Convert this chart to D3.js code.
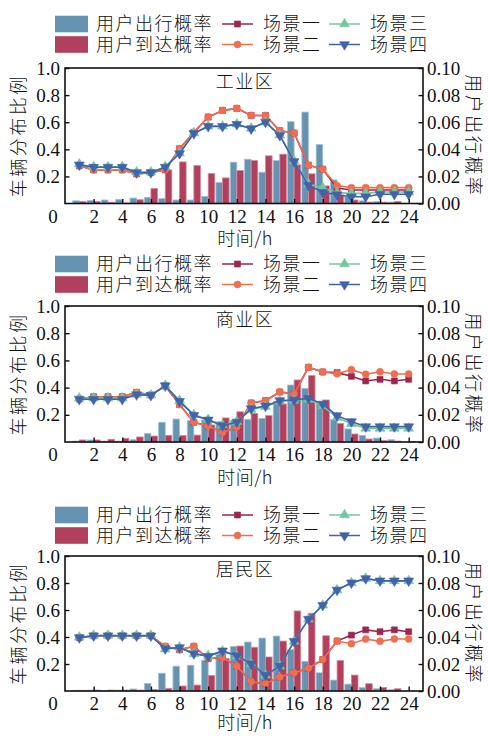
<!DOCTYPE html>
<html>
<head>
<meta charset="utf-8">
<script src="https://cdn.jsdelivr.net/npm/d3@7/dist/d3.min.js"></script>
<style>
  html, body { margin: 0; padding: 0; background: #fff; }
  svg { display: block; }
  .num { font-family: "Liberation Serif", "DejaVu Serif", serif; font-size: 19px; fill: #111; }
  .cjk { font-family: "Noto Sans CJK SC", sans-serif; font-size: 18px; font-weight: 300; letter-spacing: 1.5px; fill: #111; }
</style>
</head>
<body>
<svg id="chart" width="488" height="736"></svg>
<script>
// Hours of the day
const hours = [1,2,3,4,5,6,7,8,9,10,11,12,13,14,15,16,17,18,19,20,21,22,23,24];
const xTicks = [2,4,6,8,10,12,14,16,18,20,22,24];
const leftTicks = [0.2,0.4,0.6,0.8,1.0];
const rightTicks = [0,0.02,0.04,0.06,0.08,0.10];

// 工业区
const indDepart = [0.0020,0.0023,0.0026,0.0030,0.0040,0.0045,0.0036,0.0026,0.0026,0.0053,0.0154,0.0305,0.0327,0.0231,0.0317,0.0604,0.0675,0.0436,0.0174,0.0050,0.0020,0.0015,0.0010,0];
const indArrive = [0.0014,0.0014,0.0009,0.0004,0.0028,0.0110,0.0248,0.0307,0.0280,0.0221,0.0189,0.0243,0.0317,0.0352,0.0364,0.0285,0.0219,0.0130,0.0063,0.0026,0.0010,0.0010,0.0015,0];
const indS1 = [0.278,0.248,0.248,0.248,0.219,0.228,0.248,0.404,0.525,0.638,0.687,0.702,0.650,0.650,0.537,0.520,0.283,0.253,0.115,0.100,0.100,0.100,0.100,0.100];
const indS2 = [0.278,0.248,0.248,0.248,0.219,0.228,0.248,0.404,0.525,0.638,0.687,0.702,0.650,0.650,0.537,0.520,0.283,0.253,0.132,0.117,0.117,0.117,0.117,0.117];
const indS3 = [0.290,0.270,0.270,0.270,0.232,0.232,0.272,0.372,0.520,0.570,0.570,0.585,0.555,0.600,0.505,0.315,0.145,0.115,0.080,0.075,0.075,0.085,0.085,0.085];
const indS4 = [0.285,0.268,0.268,0.268,0.228,0.228,0.268,0.369,0.517,0.569,0.569,0.584,0.552,0.601,0.502,0.310,0.135,0.083,0.065,0.050,0.050,0.068,0.068,0.068];

// 商业区
const comDepart = [0.0007,0.0015,0.0007,0.0007,0.0017,0.0064,0.0145,0.0169,0.0157,0.0162,0.0150,0.0160,0.0167,0.0174,0.0297,0.0419,0.0395,0.0284,0.0167,0.0096,0.0049,0.0029,0.0017,0];
const comArrive = [0.0015,0.0015,0.0020,0.0027,0.0037,0.0044,0.0049,0.0047,0.0051,0.0125,0.0177,0.0222,0.0211,0.0194,0.0279,0.0456,0.0488,0.0309,0.0137,0.0059,0.0022,0.0012,0.0007,0.0003];
const comS1 = [0.316,0.333,0.333,0.333,0.365,0.346,0.412,0.275,0.145,0.118,0.069,0.110,0.287,0.304,0.368,0.353,0.549,0.515,0.510,0.483,0.449,0.461,0.449,0.461];
const comS2 = [0.316,0.333,0.333,0.333,0.365,0.346,0.412,0.275,0.145,0.118,0.069,0.110,0.287,0.304,0.368,0.353,0.549,0.515,0.502,0.532,0.498,0.517,0.500,0.500];
const comS3 = [0.322,0.322,0.322,0.322,0.350,0.345,0.416,0.305,0.200,0.165,0.125,0.150,0.240,0.260,0.300,0.305,0.314,0.265,0.180,0.135,0.100,0.100,0.100,0.100];
const comS4 = [0.314,0.314,0.314,0.314,0.348,0.343,0.414,0.299,0.196,0.162,0.120,0.147,0.245,0.265,0.304,0.309,0.321,0.279,0.194,0.150,0.113,0.113,0.113,0.113];

// 居民区
const resDepart = [0.0005,0.0007,0.0005,0.0007,0.0015,0.0056,0.0132,0.0184,0.0191,0.0228,0.0272,0.0331,0.0363,0.0392,0.0407,0.0306,0.0220,0.0135,0.0081,0.0051,0.0025,0.0017,0.0010,0];
const resArrive = [0.0005,0.0007,0.0007,0.0007,0.0007,0.0012,0.0020,0.0037,0.0044,0.0115,0.0240,0.0333,0.0324,0.0252,0.0370,0.0593,0.0576,0.0409,0.0225,0.0118,0.0054,0.0027,0.0017,0];
const resS1 = [0.395,0.409,0.409,0.409,0.409,0.409,0.331,0.306,0.331,0.240,0.248,0.184,0.069,0.054,0.103,0.135,0.169,0.233,0.370,0.414,0.453,0.439,0.453,0.439];
const resS2 = [0.395,0.409,0.409,0.409,0.409,0.409,0.331,0.306,0.331,0.240,0.248,0.184,0.069,0.054,0.103,0.135,0.169,0.233,0.370,0.350,0.385,0.368,0.385,0.385];
const resS3 = [0.398,0.412,0.412,0.412,0.412,0.412,0.310,0.325,0.275,0.262,0.295,0.258,0.200,0.118,0.184,0.368,0.532,0.635,0.748,0.801,0.833,0.816,0.816,0.816];
const resS4 = [0.395,0.409,0.409,0.409,0.409,0.409,0.314,0.321,0.277,0.257,0.297,0.262,0.201,0.118,0.184,0.368,0.532,0.635,0.748,0.801,0.833,0.816,0.816,0.816];

const barNames = ["用户出行概率", "用户到达概率"];
const lineNames = ["场景一", "场景二", "场景三", "场景四"];
const barColors = ["#6593b1", "#b0405d"];
const barStrokes = ["#a8c3d5", "#d4899c"];
const lineColors = ["#9c2652", "#ee6f50", "#72c89e", "#4263a9"];
const markerTypes = [d3.symbolSquare, d3.symbolCircle, d3.symbolTriangle, d3.symbolTriangle];

const panels = [
  { title: "工业区", top: 68, bottom: 203.5, leg: 24, xt: 239, bars: [indDepart, indArrive], lines: [indS1, indS2, indS3, indS4] },
  { title: "商业区", top: 306, bottom: 442, leg: 264, xt: 478, bars: [comDepart, comArrive], lines: [comS1, comS2, comS3, comS4] },
  { title: "居民区", top: 556, bottom: 691, leg: 515, xt: 723, bars: [resDepart, resArrive], lines: [resS1, resS2, resS3, resS4] }
];

const svg = d3.select("#chart");
const left = 65, right = 423;

function marker(g, i, cx, cy) {
  const type = markerTypes[i];
  const size = i === 1 ? 38 : (i === 0 ? 36 : 42);
  const rot = i === 3 ? 180 : 0;
  g.append("path")
    .attr("d", d3.symbol().type(type).size(size)())
    .attr("transform", `translate(${cx},${cy}) rotate(${rot})`)
    .attr("fill", lineColors[i])
    .attr("stroke", lineColors[i])
    .attr("stroke-width", 0.6);
}

panels.forEach(p => {
  const g = svg.append("g");
  const x = d3.scaleLinear().domain([0, 25]).range([left, right]);
  const yL = d3.scaleLinear().domain([0, 1]).range([p.bottom, p.top]);
  const yR = d3.scaleLinear().domain([0, 0.1]).range([p.bottom, p.top]);
  const bw = (x(1) - x(0)) * 0.46;

  // Legend
  const lg = g.append("g");
  [0, 1].forEach(k => {
    const cy = p.leg + k * 20.5;
    lg.append("rect").attr("x", 55).attr("y", cy - 8.3).attr("width", 33).attr("height", 16.6)
      .attr("fill", barColors[k]);
    lg.append("text").attr("class", "cjk").attr("x", 96).attr("y", cy).attr("dy", "0.36em").text(barNames[k]);
  });
  lineNames.forEach((name, i) => {
    const col = Math.floor(i / 2);  // 场景一/二 in first column, 三/四 in second
    const row = i % 2;
    const x0 = col === 0 ? 222 : 329;
    const cy = p.leg + row * 20.5;
    lg.append("line").attr("x1", x0).attr("x2", x0 + 31).attr("y1", cy).attr("y2", cy)
      .attr("stroke", lineColors[i]).attr("stroke-width", 1.5);
    marker(lg, i, x0 + 15.5, cy);
    lg.append("text").attr("class", "cjk").attr("x", x0 + 41).attr("y", cy).attr("dy", "0.36em").text(name);
  });

  // Bars (right axis)
  p.bars.forEach((vals, k) => {
    g.append("g").selectAll("rect").data(hours).join("rect")
      .attr("x", (h) => k === 0 ? x(h) - bw : x(h))
      .attr("y", (h, i) => yR(vals[i]))
      .attr("width", bw)
      .attr("height", (h, i) => p.bottom - yR(vals[i]))
      .attr("fill", barColors[k])
      .attr("stroke", barStrokes[k])
      .attr("stroke-width", 0.8);
  });

  // Scenario lines (left axis)
  p.lines.forEach((vals, i) => {
    const line = d3.line().x((h) => x(h)).y((h, j) => yL(vals[j]));
    const lg2 = g.append("g");
    lg2.append("path").datum(hours).attr("d", line)
      .attr("fill", "none").attr("stroke", lineColors[i]).attr("stroke-width", 1.6);
    hours.forEach((h, j) => marker(lg2, i, x(h), yL(vals[j])));
  });

  // Axes
  const ax = g.append("g").attr("transform", `translate(0,${p.bottom})`)
    .call(d3.axisBottom(x).tickValues(xTicks).tickSizeInner(-4.5).tickSizeOuter(0).tickPadding(6));
  const ayL = g.append("g").attr("transform", `translate(${left},0)`)
    .call(d3.axisLeft(yL).tickValues(leftTicks).tickFormat(d3.format(".1f")).tickSizeInner(-4.5).tickSizeOuter(0).tickPadding(5));
  const ayR = g.append("g").attr("transform", `translate(${right},0)`)
    .call(d3.axisRight(yR).tickValues(rightTicks).tickFormat(d3.format(".2f")).tickSizeInner(-4.5).tickSizeOuter(0).tickPadding(4));
  [ax, ayL, ayR].forEach(a => {
    a.select(".domain").remove();
    a.selectAll("line").attr("stroke", "#111").attr("stroke-width", 1.4);
    a.selectAll("text").attr("class", "num").attr("font-family", null).attr("font-size", null);
  });
  ax.selectAll("text").attr("dy", "0.71em");

  // Frame
  g.append("rect").attr("x", left).attr("y", p.top).attr("width", right - left).attr("height", p.bottom - p.top)
    .attr("fill", "none").attr("stroke", "#111").attr("stroke-width", 1.6);

  // Origin label
  g.append("text").attr("class", "num").attr("x", 53).attr("y", p.bottom + 6).attr("dy", "0.71em")
    .attr("text-anchor", "middle").text("0");

  // Titles
  g.append("text").attr("class", "cjk").attr("x", 245).attr("y", p.top + 14).attr("dy", "0.36em")
    .attr("text-anchor", "middle").text(p.title);
  g.append("text").attr("class", "cjk").attr("x", 245).attr("y", p.xt).attr("dy", "0.36em")
    .attr("text-anchor", "middle").style("letter-spacing", "0.5px").text("时间/h");
  const mid = (p.top + p.bottom) / 2;
  g.append("text").attr("class", "cjk").attr("transform", `translate(19,${mid}) rotate(-90)`)
    .attr("dy", "0.36em").attr("text-anchor", "middle").style("letter-spacing", "2.5px").text("车辆分布比例");
  g.append("text").attr("class", "cjk").attr("transform", `translate(473,${mid}) rotate(90)`)
    .attr("dy", "0.36em").attr("text-anchor", "middle").style("letter-spacing", "2.5px").text("用户出行概率");
});
</script>
</body>
</html>
